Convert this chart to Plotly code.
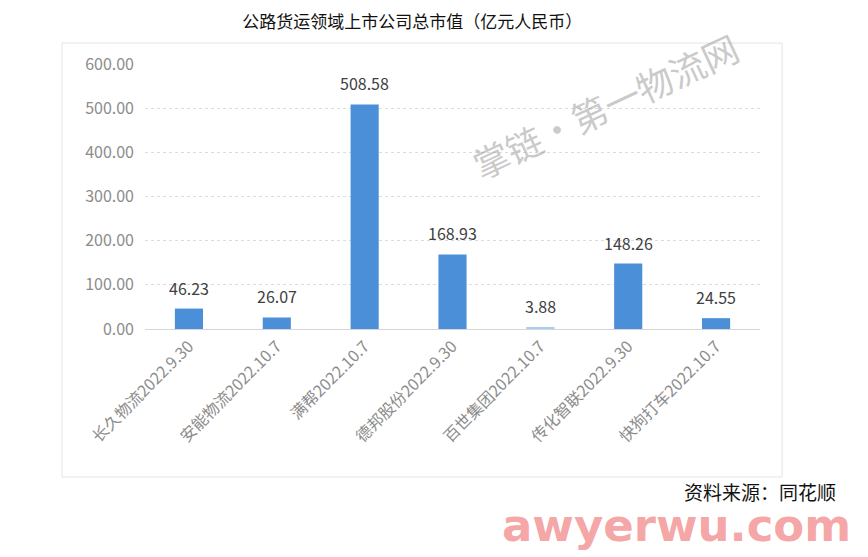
import plotly.graph_objects as go

categories = ["长久物流2022.9.30", "安能物流2022.10.7", "满帮2022.10.7", "德邦股份2022.9.30",
              "百世集团2022.10.7", "传化智联2022.9.30", "快狗打车2022.10.7"]
values = [46.23, 26.07, 508.58, 168.93, 3.88, 148.26, 24.55]
bar_colors = ["#4a8fd7", "#4a8fd7", "#4a8fd7", "#4a8fd7", "#a8cbee", "#4a8fd7", "#4a8fd7"]
y_ticks = [0, 100, 200, 300, 400, 500, 600]

FONT = "Noto Sans CJK SC, Microsoft YaHei, sans-serif"

fig = go.Figure()
fig.add_trace(go.Bar(
    x=categories, y=values, marker=dict(color=bar_colors, line=dict(width=0)),
    width=0.32, showlegend=False, hoverinfo="skip",
))
for c, v in zip(categories, values):
    fig.add_annotation(x=c, y=v, text=f"{v:.2f}", showarrow=False, yanchor="bottom",
                       yshift=7, font=dict(size=16, color="#404040", family=FONT))

fig.update_layout(
    width=860, height=549,
    margin=dict(l=137, r=108, t=56, b=228),
    paper_bgcolor="white", plot_bgcolor="white",
    font=dict(family=FONT),
    title=dict(text="公路货运领域上市公司总市值（亿元人民币）", x=0.47, xanchor="center",
               y=0.974, yanchor="middle", font=dict(size=17, color="#111111", family=FONT)),
)
fig.update_yaxes(range=[0, 600], tickvals=y_ticks, tickformat=".2f",
                 tickfont=dict(size=16, color="#8c8c8c", family=FONT),
                 gridcolor="#dcdcdc", griddash="dot", gridwidth=1, zeroline=True,
                 zerolinecolor="#d6d6d6", zerolinewidth=1, showline=False, ticklabelstandoff=10)
fig.update_xaxes(tickangle=-45, tickfont=dict(size=16, color="#8c8c8c", family=FONT),
                 showline=False, showgrid=False, ticks="", ticklabelstandoff=4)

# outer chart border
fig.add_shape(type="rect", xref="paper", yref="paper", x0=-0.135, x1=1.036,
              y0=-0.5585, y1=1.079, line=dict(color="#e4e4e4", width=1), layer="below")

# watermark
fig.add_annotation(xref="paper", yref="paper", x=0.748, y=0.845, xanchor="center", yanchor="middle",
                   text="掌链·第一物流网", showarrow=False, textangle=-25,
                   font=dict(size=36, color="rgba(150,150,150,0.5)", family=FONT))
fig.add_annotation(xref="paper", yref="paper", x=1.1268, y=-0.612, xanchor="right", yanchor="middle",
                   text="资料来源：同花顺", showarrow=False,
                   font=dict(size=19, color="#111111", family=FONT))
fig.add_annotation(xref="paper", yref="paper", x=0.865, y=-0.742, xanchor="center", yanchor="middle",
                   text="<b>awyerwu.com</b>", showarrow=False,
                   font=dict(size=45, color="rgba(244,150,150,0.85)", family="Verdana, DejaVu Sans, sans-serif"))

fig.write_html("out.html")
